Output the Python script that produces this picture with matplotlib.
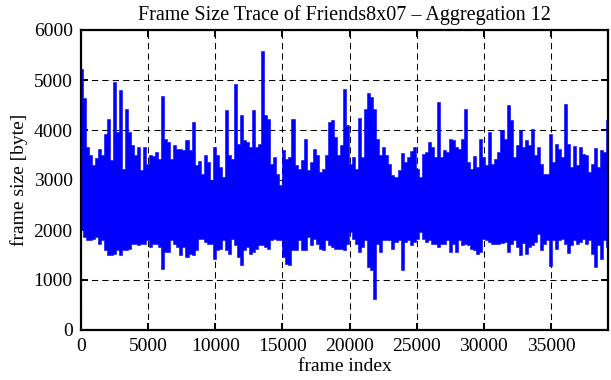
import numpy as np
import matplotlib
matplotlib.use('Agg')
import matplotlib.pyplot as plt

# per-bin upper / lower envelope of the frame size trace (byte)
frame_max = [
    5230, 4650, 3670, 3500, 3300, 3450, 3630, 3500, 3930, 4230,
    3400, 4970, 3970, 4800, 3230, 4430, 3970, 3700, 3500, 3670,
    3200, 3670, 3330, 3500, 3480,
    3570, 3430, 4680, 3830, 3770, 3430, 3700, 3630, 3630, 3600,
    3800, 3600, 4170, 3300, 3390, 3130, 3500, 3370, 3000, 3670,
    3500, 3270, 3070, 4400, 3500,
    3430, 4920, 3730, 4300, 3800, 3770, 3670, 4400, 3670, 3730,
    5580, 4300, 4230, 3330, 3470, 3130, 2900, 3600, 3430, 3470,
    4220, 3300, 3230, 3400, 3830, 3200,
    3370, 3630, 3500, 3170, 3230, 3500, 4170, 4200, 3870, 3500,
    3700, 4830, 4100, 3330, 3470, 3230, 4250, 3470, 4430, 4750,
    4670, 4420, 3830, 3500, 3670,
    3500, 3320, 3100, 3070, 3200, 3550, 3370, 3470, 3590, 3670,
    3230, 3070, 3530, 3570, 3770, 3670, 3470, 4570, 3470, 3600,
    3570, 3830, 3800, 3670, 3630,
    3830, 4430, 3370, 3230, 3480, 3270, 3830, 3470, 3300, 3970,
    3330, 3430, 3570, 4010, 3830, 4500, 4200, 3470, 3700, 4010,
    3670, 3800, 3700, 4030, 3500,
    3670, 3330, 3130, 3130, 3920, 3370, 3730, 3630, 3470, 4530,
    3730, 3270, 3680, 3300, 3670, 3520, 3500, 3170, 3330, 3650,
    3270, 3600, 3570, 4210,
]
frame_min = [
    2000, 1870, 1800, 1800, 1830, 1870, 1730, 1800, 1600, 1500,
    1500, 1530, 1600, 1500, 1600, 1600, 1630, 1730, 1730, 1700,
    1730, 1730, 1800, 1670, 1730,
    1730, 1670, 1230, 1570, 1570, 1800, 1730, 1670, 1500, 1670,
    1470, 1530, 1500, 1600, 1830, 1830, 1770, 1730, 1730, 1430,
    1600, 1630, 1800, 1600, 1530,
    1830, 1700, 1470, 1300, 1600, 1670, 1530, 1570, 1630, 1700,
    1700, 1670, 1630, 1800, 1830, 1800, 1800, 1470, 1330, 1300,
    1600, 1600, 1800, 1600, 1600, 1870,
    1700, 1830, 1730, 1630, 1600, 1800, 1700, 1670, 1630, 1630,
    1630, 1600, 1730, 1970, 1830, 1730, 1570, 1670, 1800, 1270,
    1200, 630, 1730, 1570, 1800,
    1800, 1800, 1630, 1770, 1800, 1200, 1770, 1800, 1700, 1770,
    1830, 1970, 1830, 1770, 1800, 1730, 1730, 1670, 1730, 1730,
    1800, 1570, 1730, 1570, 1800,
    1700, 1730, 1700, 1630, 1600, 1530, 1570, 1830, 1800, 1770,
    1730, 1720, 1720, 1750, 1770, 1570, 1720, 1800, 1670, 1500,
    1750, 1530, 1670, 1700, 1770,
    1930, 1600, 1730, 1800, 1280, 1800, 1630, 1800, 1830, 1730,
    1550, 1700, 1800, 1730, 1770, 1830, 1730, 1800, 1530, 1270,
    1700, 1430, 1800, 1670,
]
last_frame = 39250
x_ticks = [0, 5000, 10000, 15000, 20000, 25000, 30000, 35000]
y_ticks = [0, 1000, 2000, 3000, 4000, 5000, 6000]

plt.rcParams['font.family'] = ['Liberation Serif', 'DejaVu Serif']

frames = np.linspace(0, last_frame, len(frame_max))

fig = plt.figure(figsize=(6.11, 3.80), dpi=100)
ax = fig.add_axes([81 / 611, 1 - 330 / 380, 527 / 611, 300 / 380])

# each bin spans a few pixel columns; the dense trace fills it from min to max
ax.fill_between(frames, frame_min, frame_max, step='mid',
                facecolor='#0000ff', edgecolor='#0000ff', linewidth=0.4)

ax.set_xlim(0, last_frame)
ax.set_ylim(0, 6000)
ax.set_xticks(x_ticks)
ax.set_yticks(y_ticks)
ax.set_axisbelow(True)
ax.grid(True, color='black', linestyle=(0, (6, 4)), linewidth=0.75)

for s in ax.spines.values():
    s.set_linewidth(1.6)
ax.tick_params(direction='in', length=5, width=1.4, top=True, right=True,
               labelsize=14, pad=6)

ax.set_xlabel('frame index', fontsize=14, labelpad=2)
ax.set_ylabel('frame size [byte]', fontsize=14, labelpad=4)
ax.set_title('Frame Size Trace of Friends8x07 \u2013 Aggregation 12', fontsize=14.5, pad=7)

fig.savefig('out.png', dpi=100)
plt.close(fig)
